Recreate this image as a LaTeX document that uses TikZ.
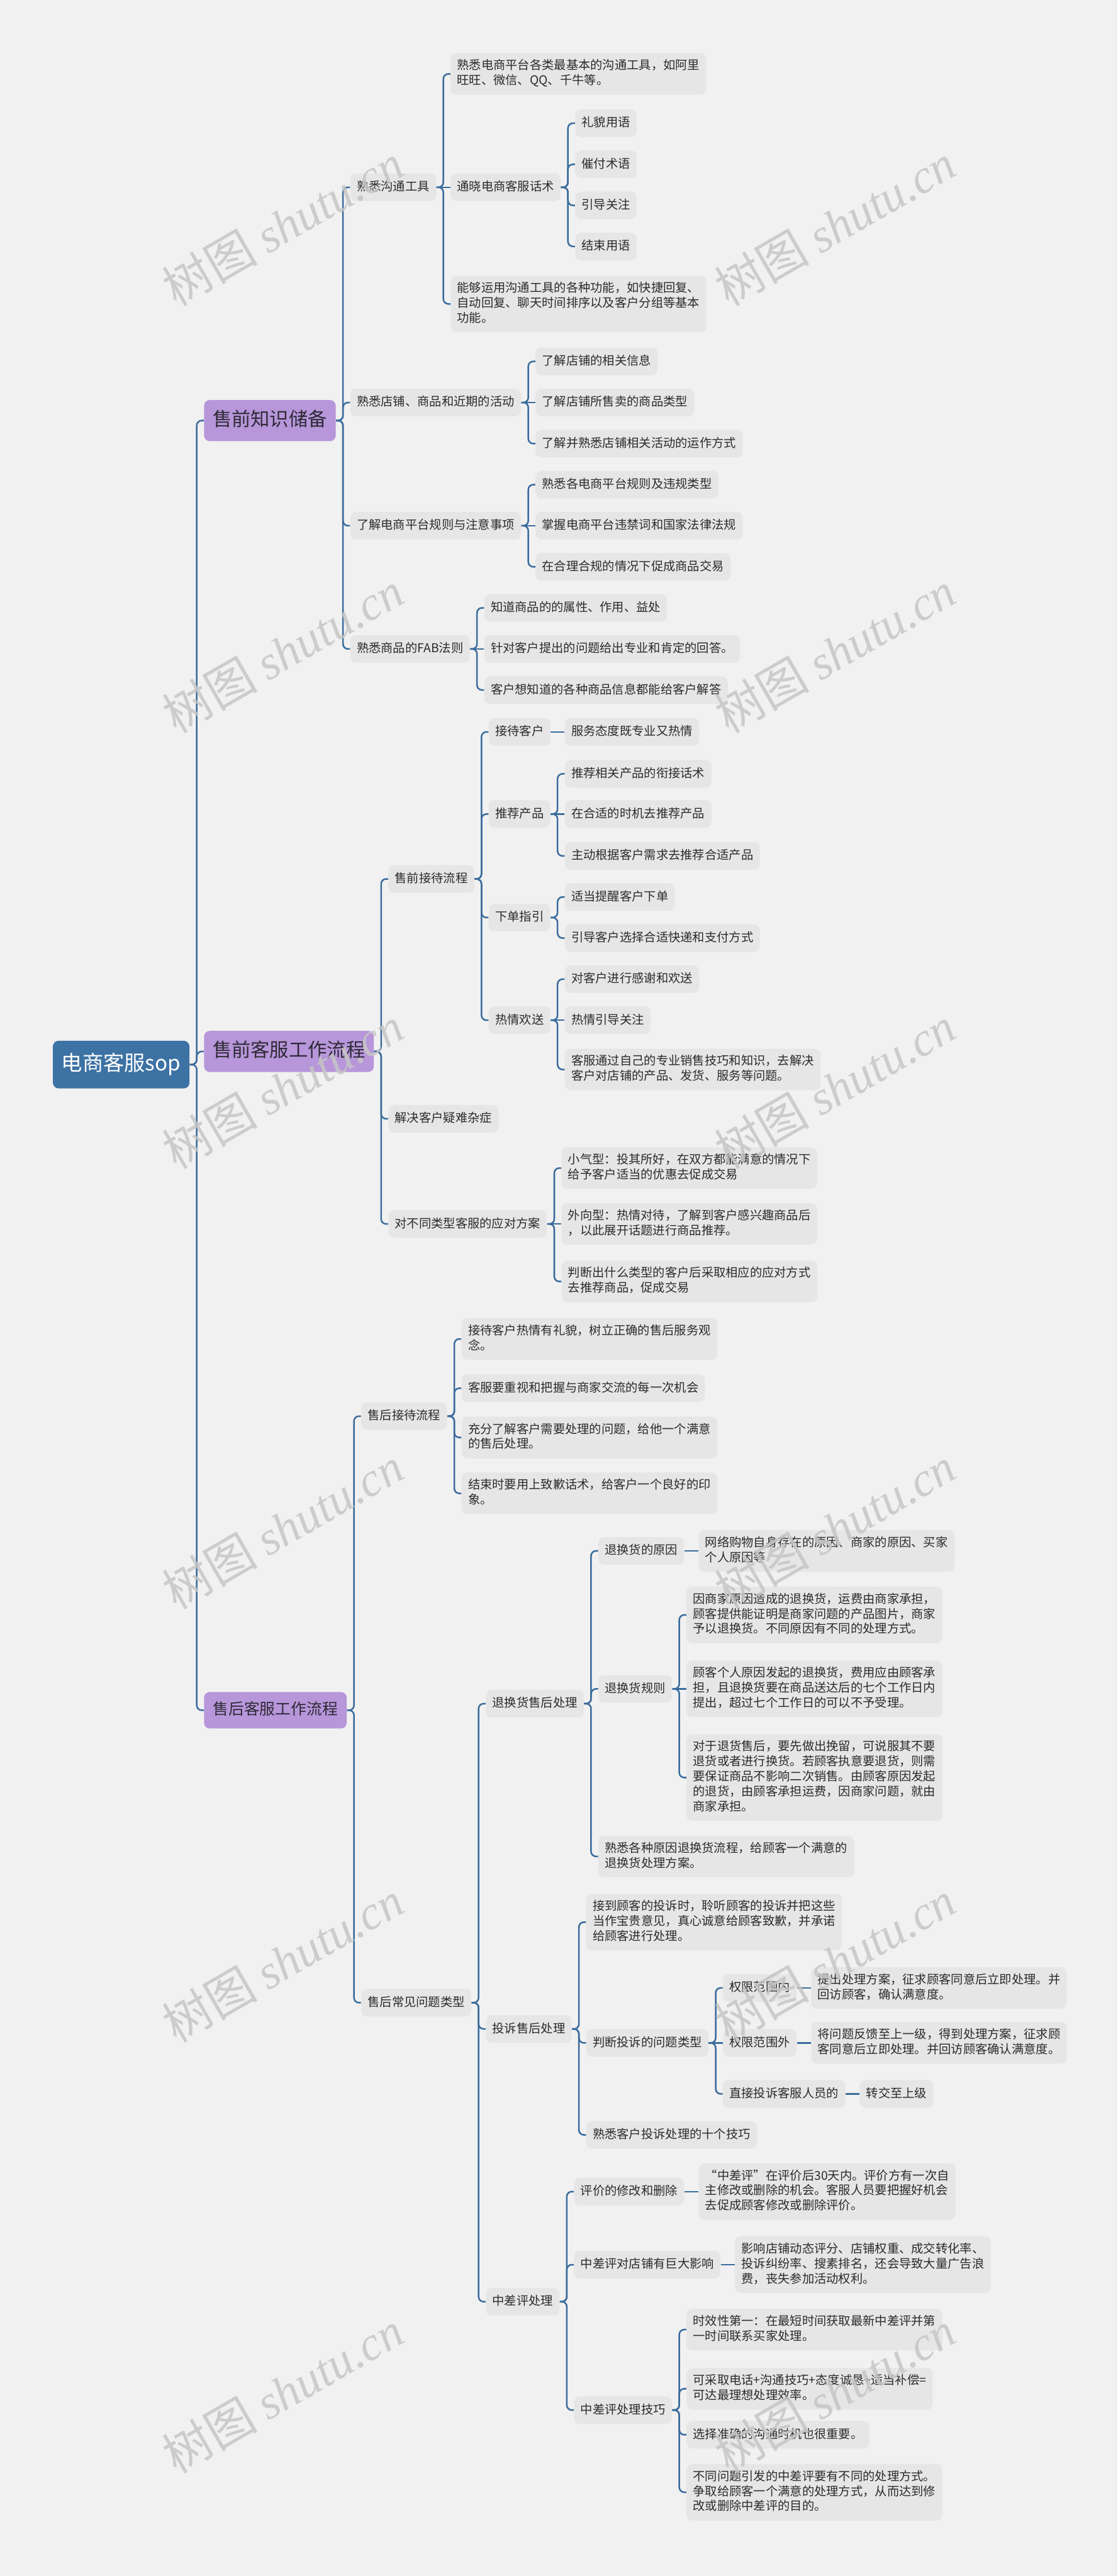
\documentclass[tikz,border=0pt]{standalone}
\usepackage{fontspec}
\setmainfont{Noto Sans CJK SC}
\newfontfamily\wmlatin{Liberation Serif}

\definecolor{bgcol}{HTML}{F1F1F1}
\definecolor{boxcol}{HTML}{E6E6E6}
\definecolor{linkcol}{HTML}{3B6C9D}
\definecolor{rootcol}{HTML}{3D72A4}
\definecolor{maincol}{HTML}{B796DA}
\definecolor{maintxt}{HTML}{2E2A36}
\definecolor{txtcol}{HTML}{2B2B2B}
\definecolor{wmcol}{HTML}{C6C6C6}

\newcommand\lstrut{\rule[-2.6pt]{0pt}{10.4pt}}

\begin{document}
\begin{tikzpicture}[x=0.04cm, y=-0.04cm,
	link/.style={draw=linkcol, line width=1.1pt, rounded corners=0.12cm},
	leaf/.style={fill=boxcol, rounded corners=4pt, inner xsep=4.5pt, inner ysep=4.35pt, align=left, text=txtcol,
		font=\fontsize{8.4}{10.4}\selectfont, execute at begin node=\lstrut, execute at end node=\lstrut},
	main/.style={fill=maincol, rounded corners=4pt, inner xsep=6pt, inner ysep=8pt, text=maintxt,
		font=\fontsize{13.2}{15}\selectfont, text height=10pt, text depth=2.5pt},
	root/.style={fill=rootcol, rounded corners=4pt, inner xsep=6pt, inner ysep=9.25pt, text=white,
		font=\fontsize{14.5}{17}\selectfont, text height=11.5pt, text depth=3pt},
	kid/.style={anchor=west, xshift=0.34cm},
	wmark/.style={text=wmcol, opacity=0.85, rotate=30, font=\fontsize{33}{33}\selectfont}]
		\useasboundingbox (0,0) rectangle (680,1568);
		\fill[bgcol] (0,0) rectangle (680,1568);
		
		% center
		\node[root, anchor=west] (r) at (32,648) {电商客服sop};
		
		\node[main, kid] (a) at (r.east |- 0,256) {售前知识储备};
		\node[main, kid] (b) at (r.east |- 0,640) {售前客服工作流程};
		\node[main, kid, font=\fontsize{10.8}{12}\selectfont, text height=8.5pt, text depth=2pt, inner ysep=7.4pt, inner xsep=6.2pt] (c) at (r.east |- 0,1041) {售后客服工作流程};
		
		% 售前知识储备
		\node[leaf, kid] (a1) at (a.east |- 0,114) {熟悉沟通工具};
		\node[leaf, kid] (a2) at (a.east |- 0,245) {熟悉店铺、商品和近期的活动};
		\node[leaf, kid] (a3) at (a.east |- 0,320) {了解电商平台规则与注意事项};
		\node[leaf, kid] (a4) at (a.east |- 0,395) {熟悉商品的FAB法则};
		
		\node[leaf, kid] (a11) at (a1.east |- 0,45) {熟悉电商平台各类最基本的沟通工具，如阿里\\旺旺、微信、QQ、千牛等。};
		\node[leaf, kid] (a12) at (a1.east |- 0,114) {通晓电商客服话术};
		\node[leaf, kid] (a13) at (a1.east |- 0,185) {能够运用沟通工具的各种功能，如快捷回复、\\自动回复、聊天时间排序以及客户分组等基本\\功能。};
		
		\node[leaf, kid] (a121) at (a12.east |- 0,75) {礼貌用语};
		\node[leaf, kid] (a122) at (a12.east |- 0,100) {催付术语};
		\node[leaf, kid] (a123) at (a12.east |- 0,125) {引导关注};
		\node[leaf, kid] (a124) at (a12.east |- 0,150) {结束用语};
		
		\node[leaf, kid] (a21) at (a2.east |- 0,220) {了解店铺的相关信息};
		\node[leaf, kid] (a22) at (a2.east |- 0,245) {了解店铺所售卖的商品类型};
		\node[leaf, kid] (a23) at (a2.east |- 0,270) {了解并熟悉店铺相关活动的运作方式};
		
		\node[leaf, kid] (a31) at (a3.east |- 0,295) {熟悉各电商平台规则及违规类型};
		\node[leaf, kid] (a32) at (a3.east |- 0,320) {掌握电商平台违禁词和国家法律法规};
		\node[leaf, kid] (a33) at (a3.east |- 0,345) {在合理合规的情况下促成商品交易};
		
		\node[leaf, kid] (a41) at (a4.east |- 0,370) {知道商品的的属性、作用、益处};
		\node[leaf, kid] (a42) at (a4.east |- 0,395) {针对客户提出的问题给出专业和肯定的回答。};
		\node[leaf, kid] (a43) at (a4.east |- 0,420) {客户想知道的各种商品信息都能给客户解答};
		
		% 售前客服工作流程
		\node[leaf, kid] (b1) at (b.east |- 0,535) {售前接待流程};
		\node[leaf, kid] (b2) at (b.east |- 0,681) {解决客户疑难杂症};
		\node[leaf, kid] (b3) at (b.east |- 0,745) {对不同类型客服的应对方案};
		
		\node[leaf, kid] (b11) at (b1.east |- 0,445.5) {接待客户};
		\node[leaf, kid] (b12) at (b1.east |- 0,495.5) {推荐产品};
		\node[leaf, kid] (b13) at (b1.east |- 0,558.5) {下单指引};
		\node[leaf, kid] (b14) at (b1.east |- 0,621) {热情欢送};
		
		\node[leaf, kid] (b111) at (b11.east |- 0,445.5) {服务态度既专业又热情};
		
		\node[leaf, kid] (b121) at (b12.east |- 0,471) {推荐相关产品的衔接话术};
		\node[leaf, kid] (b122) at (b12.east |- 0,495.5) {在合适的时机去推荐产品};
		\node[leaf, kid] (b123) at (b12.east |- 0,521) {主动根据客户需求去推荐合适产品};
		
		\node[leaf, kid] (b131) at (b13.east |- 0,546) {适当提醒客户下单};
		\node[leaf, kid] (b132) at (b13.east |- 0,571) {引导客户选择合适快递和支付方式};
		
		\node[leaf, kid] (b141) at (b14.east |- 0,596) {对客户进行感谢和欢送};
		\node[leaf, kid] (b142) at (b14.east |- 0,621) {热情引导关注};
		\node[leaf, kid] (b143) at (b14.east |- 0,651) {客服通过自己的专业销售技巧和知识，去解决\\客户对店铺的产品、发货、服务等问题。};
		
		\node[leaf, kid] (b31) at (b3.east |- 0,711) {小气型：投其所好，在双方都能满意的情况下\\给予客户适当的优惠去促成交易};
		\node[leaf, kid] (b32) at (b3.east |- 0,745) {外向型：热情对待，了解到客户感兴趣商品后\\，以此展开话题进行商品推荐。};
		\node[leaf, kid] (b33) at (b3.east |- 0,780) {判断出什么类型的客户后采取相应的应对方式\\去推荐商品，促成交易};
		
		% 售后客服工作流程
		\node[leaf, kid] (c1) at (c.east |- 0,862) {售后接待流程};
		\node[leaf, kid] (c2) at (c.east |- 0,1219) {售后常见问题类型};
		
		\node[leaf, kid] (c11) at (c1.east |- 0,815) {接待客户热情有礼貌，树立正确的售后服务观\\念。};
		\node[leaf, kid] (c12) at (c1.east |- 0,845) {客服要重视和把握与商家交流的每一次机会};
		\node[leaf, kid] (c13) at (c1.east |- 0,875) {充分了解客户需要处理的问题，给他一个满意\\的售后处理。};
		\node[leaf, kid] (c14) at (c1.east |- 0,909) {结束时要用上致歉话术，给客户一个良好的印\\象。};
		
		\node[leaf, kid] (c21) at (c2.east |- 0,1037) {退换货售后处理};
		\node[leaf, kid] (c22) at (c2.east |- 0,1235) {投诉售后处理};
		\node[leaf, kid] (c23) at (c2.east |- 0,1401) {中差评处理};
		
		\node[leaf, kid] (c211) at (c21.east |- 0,944) {退换货的原因};
		\node[leaf, kid] (c212) at (c21.east |- 0,1028) {退换货规则};
		\node[leaf, kid] (c213) at (c21.east |- 0,1130) {熟悉各种原因退换货流程，给顾客一个满意的\\退换货处理方案。};
		
		\node[leaf, kid] (c2111) at (c211.east |- 0,944) {网络购物自身存在的原因、商家的原因、买家\\个人原因等};
		
		\node[leaf, kid] (c2121) at (c212.east |- 0,983) {因商家原因造成的退换货，运费由商家承担，\\顾客提供能证明是商家问题的产品图片，商家\\予以退换货。不同原因有不同的处理方式。};
		\node[leaf, kid] (c2122) at (c212.east |- 0,1028) {顾客个人原因发起的退换货，费用应由顾客承\\担，且退换货要在商品送达后的七个工作日内\\提出，超过七个工作日的可以不予受理。};
		\node[leaf, kid] (c2123) at (c212.east |- 0,1082) {对于退货售后，要先做出挽留，可说服其不要\\退货或者进行换货。若顾客执意要退货，则需\\要保证商品不影响二次销售。由顾客原因发起\\的退货，由顾客承担运费，因商家问题，就由\\商家承担。};
		
		\node[leaf, kid] (c221) at (c22.east |- 0,1170) {接到顾客的投诉时，聆听顾客的投诉并把这些\\当作宝贵意见，真心诚意给顾客致歉，并承诺\\给顾客进行处理。};
		\node[leaf, kid] (c222) at (c22.east |- 0,1243.5) {判断投诉的问题类型};
		\node[leaf, kid] (c223) at (c22.east |- 0,1299.5) {熟悉客户投诉处理的十个技巧};
		
		\node[leaf, kid] (c2221) at (c222.east |- 0,1210) {权限范围内};
		\node[leaf, kid] (c2222) at (c222.east |- 0,1243.5) {权限范围外};
		\node[leaf, kid] (c2223) at (c222.east |- 0,1274.5) {直接投诉客服人员的};
		
		\node[leaf, kid] (c22211) at (c2221.east |- 0,1210) {提出处理方案，征求顾客同意后立即处理。并\\回访顾客，确认满意度。};
		\node[leaf, kid] (c22221) at (c2222.east |- 0,1243.5) {将问题反馈至上一级，得到处理方案，征求顾\\客同意后立即处理。并回访顾客确认满意度。};
		\node[leaf, kid] (c22231) at (c2223.east |- 0,1274.5) {转交至上级};
		
		\node[leaf, kid] (c231) at (c23.east |- 0,1334) {评价的修改和删除};
		\node[leaf, kid] (c232) at (c23.east |- 0,1378.5) {中差评对店铺有巨大影响};
		\node[leaf, kid] (c233) at (c23.east |- 0,1467) {中差评处理技巧};
		
		\node[leaf, kid] (c2311) at (c231.east |- 0,1334) {“中差评”在评价后30天内。评价方有一次自\\主修改或删除的机会。客服人员要把握好机会\\去促成顾客修改或删除评价。};
		\node[leaf, kid] (c2321) at (c232.east |- 0,1378.5) {影响店铺动态评分、店铺权重、成交转化率、\\投诉纠纷率、搜素排名，还会导致大量广告浪\\费，丧失参加活动权利。};
		
		\node[leaf, kid] (c2331) at (c233.east |- 0,1418) {时效性第一：在最短时间获取最新中差评并第\\一时间联系买家处理。};
		\node[leaf, kid] (c2332) at (c233.east |- 0,1454) {可采取电话+沟通技巧+态度诚恳+适当补偿=\\可达最理想处理效率。};
		\node[leaf, kid] (c2333) at (c233.east |- 0,1482) {选择准确的沟通时机也很重要。};
		\node[leaf, kid] (c2334) at (c233.east |- 0,1517) {不同问题引发的中差评要有不同的处理方式。\\争取给顾客一个满意的处理方式，从而达到修\\改或删除中差评的目的。};
		
		% connectors, bent
		\foreach \p/\ks in {r/{a,b,c}, a/{a1,a2,a3,a4}, a1/{a11,a13}, a12/{a121,a122,a123,a124},
			a2/{a21,a23}, a3/{a31,a33}, a4/{a41,a43},
			b/{b1,b2,b3}, b1/{b11,b12,b13,b14}, b12/{b121,b123}, b13/{b131,b132},
			b14/{b141,b143}, b3/{b31,b33},
			c/{c1,c2}, c1/{c11,c12,c13,c14}, c2/{c21,c22,c23}, c21/{c211,c212,c213},
			c212/{c2121,c2123}, c22/{c221,c222,c223}, c222/{c2221,c2223},
			c23/{c231,c232,c233}, c233/{c2331,c2332,c2333,c2334}}
			\foreach \k in \ks
				\draw[link] (\p.east) -- ++(4.25,0) |- (\k.west);
		% connectors, straight
		\foreach \p/\k in {a1/a12, a2/a22, a3/a32, a4/a42, b11/b111, b12/b122, b14/b142, b3/b32,
			c211/c2111, c212/c2122, c222/c2222, c2221/c22211, c2222/c22221, c2223/c22231,
			c231/c2311, c232/c2321}
			\draw[link] (\p.east) -- (\k.west);
		
		% watermark
		\foreach \wy in {137,397,662,930,1194,1456} {
			\node[wmark] (wl\wy) at (172,\wy) {树图 {\wmlatin\itshape shutu.cn}};
			\node[wmark] (wr\wy) at (508,\wy) {树图 {\wmlatin\itshape shutu.cn}};
		}
		\end{tikzpicture}
\end{document}
